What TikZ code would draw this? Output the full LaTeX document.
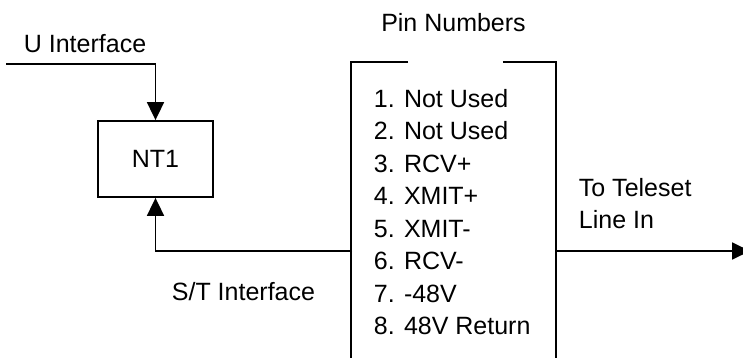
\documentclass[tikz,border=0pt]{standalone}
\usepackage{fontspec}
\setmainfont{Liberation Sans}
\usepackage{tikz}
\usetikzlibrary{arrows.meta,positioning}
\tikzset{>={Triangle[length=18pt,width=17pt]}}

\begin{document}
\begin{tikzpicture}[x=1pt,y=-1pt,line width=1.8pt,
    txt/.style={inner sep=0pt, font=\fontsize{25}{32.5}\selectfont},
    unit/.style={txt, draw, minimum width=115pt, minimum height=76pt}]

  \useasboundingbox (0,0) rectangle (743,358);

  % Nodes
  \node[unit] (nt1) at (155.5,159) {NT1} ;
  \node[minimum width=203pt, minimum height=330pt] (jack) at (453.5,228) {} ;
  \node[txt, anchor=north west, align=left] (pins) at (373,88)
    {1. Not Used\\2. Not Used\\3. RCV+\\4. XMIT+\\5. XMIT-\\6. RCV-\\7. -48V\\8. 48V Return} ;
  \node[txt, anchor=base] (title) at (453.5,32) {Pin Numbers} ;
  \node[txt, anchor=base west] (ulabel) at (23,53) {U Interface} ;
  \node[txt, anchor=base west] (stlabel) at (171,300) {S/T Interface} ;
  \node[txt, anchor=north west, align=left] (telabel) at (578,177) {To Teleset\\Line In} ;

  % Jack outline, open at the top
  \draw ([xshift=57pt]jack.north west) -- (jack.north west) -- (jack.south west) ;
  \draw ([xshift=-53pt]jack.north east) -- (jack.north east) -- (jack.south east) ;

  % Connections
  \coordinate (u) at (6,64) ;
  \coordinate (st) at (352,251) ;
  \coordinate (tel) at (750,251) ;
  \draw[->] (u) -| (nt1.north) ;
  \draw[->] (st) -| (nt1.south) ;
  \draw[->] (jack.east |- st) -- (tel) ;

\end{tikzpicture}
\end{document}
